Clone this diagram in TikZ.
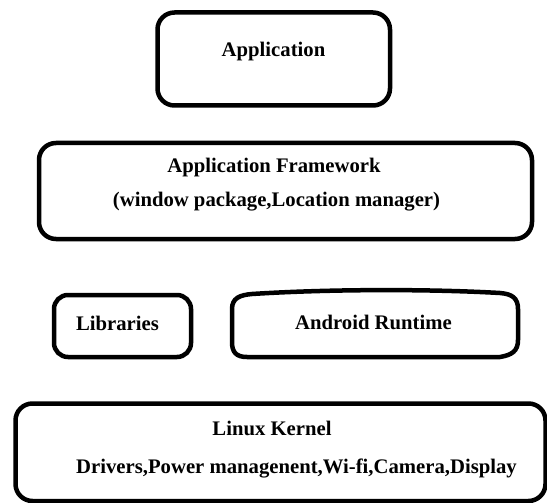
\documentclass[tikz,border=0pt]{standalone}
\usepackage{fontspec}
\setmainfont{Liberation Serif}
\begin{document}
\begin{tikzpicture}[x=1pt,y=-1pt,line width=4.5pt,
  layer/.style={rounded corners=17pt},
  lbl/.style={font=\fontsize{20.7}{24}\selectfont\bfseries,inner sep=0pt}]
\useasboundingbox (0,0) rectangle (547,503);

\draw[layer] (157.5,12.5) rectangle (390,105.5);
\node[lbl] (app) at (273.5,52) {Application};

\draw[layer] (39,143) rectangle (532,239);
\node[lbl] (frame) at (274,168) {Application Framework};
\node[lbl] (frameinfo) at (276.5,202) {(window package,Location manager)};

\draw[layer,rounded corners=14pt] (54,295) rectangle (191,357);
\node[lbl] (libs) at (117.5,323) {Libraries};

\draw (232,342) -- (232,309) .. controls (232,298) and (240,295) .. (252,294)
  .. controls (330,289) and (430,289) .. (500,293)
  .. controls (512,294) and (518,298) .. (518,309) -- (518,340)
  .. controls (518,351) and (512,355) .. (500,357) -- (247,357)
  .. controls (236,357) and (232,352) .. (232,342) -- cycle;
\node[lbl] (runtime) at (373.5,322) {Android Runtime};

\draw[layer] (15.5,403.5) rectangle (545.5,501);
\node[lbl] (kernel) at (272,428) {Linux Kernel};
\node[lbl] (kernelinfo) at (296.5,468) {Drivers,Power managenent,Wi-fi,Camera,Display};
\end{tikzpicture}
\end{document}
